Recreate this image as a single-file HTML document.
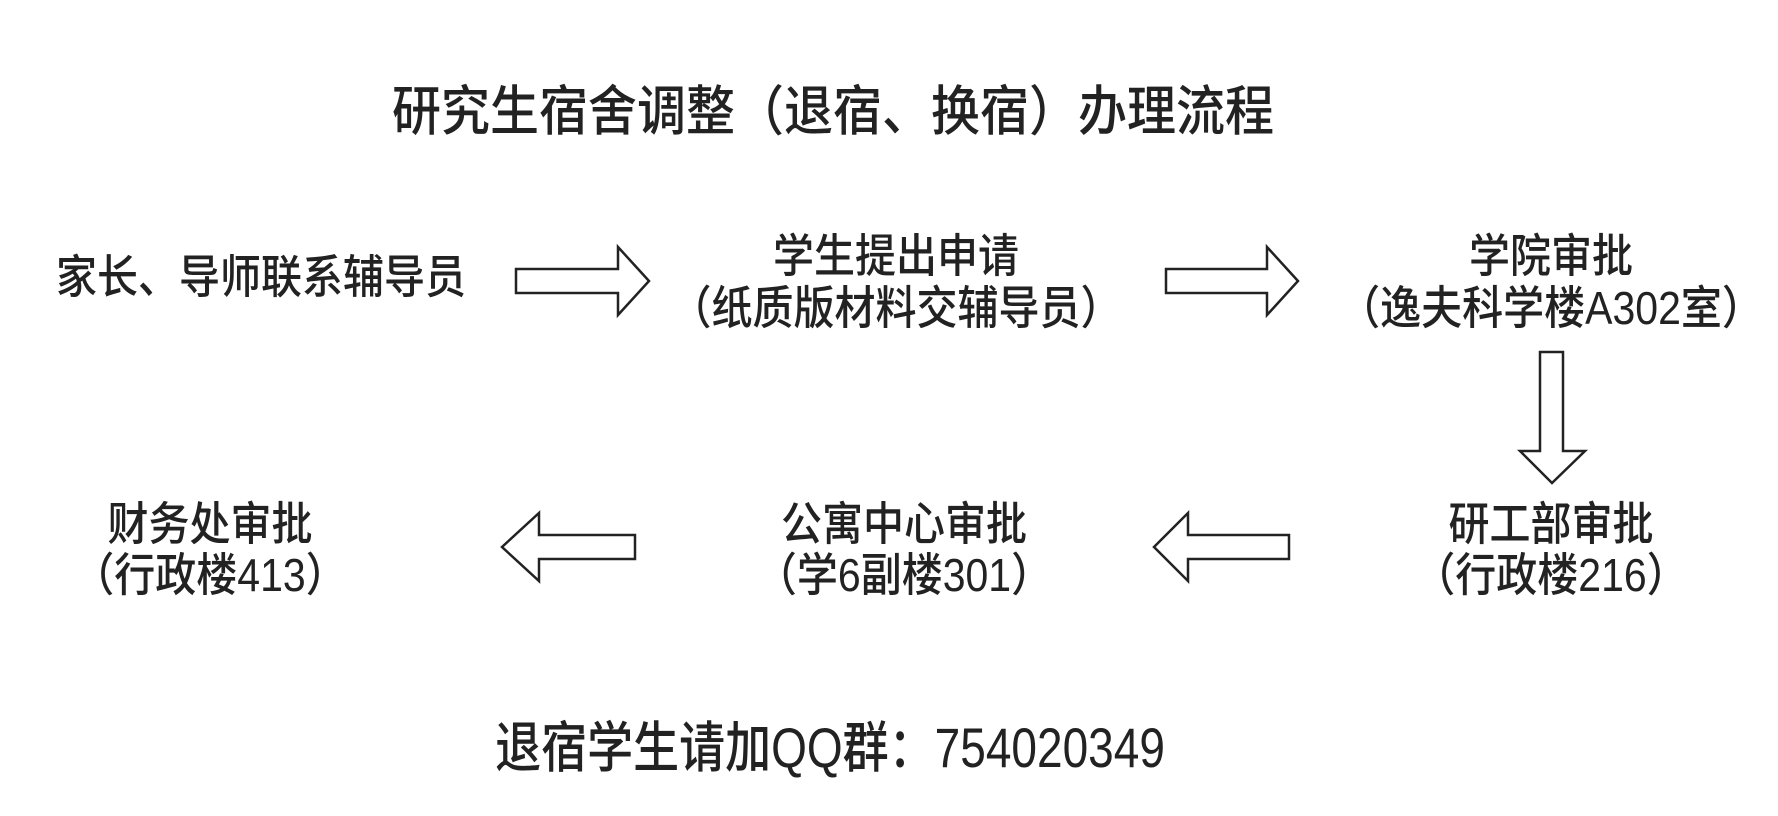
<!DOCTYPE html>
<html><head><meta charset="utf-8"><style>
body{margin:0;width:1778px;height:816px;background:#fff;position:relative;overflow:hidden;font-family:"Liberation Sans","Noto Sans CJK SC",sans-serif;color:#222;font-weight:500}
.t{position:absolute;white-space:nowrap;transform:translate(-50%,-50%) scaleY(1.12);line-height:1;text-align:center}
</style></head><body>
<div class="t" style="left:833px;top:113px;font-size:49px;transform:translate(-50%,-50%) scaleY(1.1)">研究生宿舍调整（退宿、换宿）办理流程</div>
<div class="t" style="left:261px;top:278px;font-size:41px">家长、导师联系辅导员</div>
<div class="t" style="left:896px;top:257px;font-size:41px">学生提出申请</div>
<div class="t" style="left:896px;top:309px;font-size:41px">（纸质版材料交辅导员）</div>
<div class="t" style="left:1551px;top:257px;font-size:41px">学院审批</div>
<div class="t" style="left:1551px;top:309px;font-size:41px">（逸夫科学楼A302室）</div>
<div class="t" style="left:210px;top:525px;font-size:41px">财务处审批</div>
<div class="t" style="left:210px;top:576px;font-size:41px">（行政楼413）</div>
<div class="t" style="left:904px;top:525px;font-size:41px">公寓中心审批</div>
<div class="t" style="left:904px;top:576px;font-size:41px">（学6副楼301）</div>
<div class="t" style="left:1551px;top:525px;font-size:41px">研工部审批</div>
<div class="t" style="left:1551px;top:576px;font-size:41px">（行政楼216）</div>
<div class="t" style="left:830px;top:748px;font-size:46px;transform:translate(-50%,-50%) scaleY(1.2)">退宿学生请加QQ群：754020349</div>
<svg width="1778" height="816" style="position:absolute;left:0;top:0" fill="none" stroke="#222" stroke-width="2.5">
<polygon points="516,269 618,269 618,247 649,281 618,315 618,293 516,293"/>
<polygon points="1166,269 1267,269 1267,247 1298,281 1267,315 1267,293 1166,293"/>
<polygon points="1540,352 1563,352 1563,451 1585,451 1552,483 1520,451 1540,451"/>
<polygon points="635,535 539,535 539,513 502,547 539,581 539,559 635,559"/>
<polygon points="1289,535 1188,535 1188,513 1154,547 1188,581 1188,559 1289,559"/>
</svg>
</body></html>
